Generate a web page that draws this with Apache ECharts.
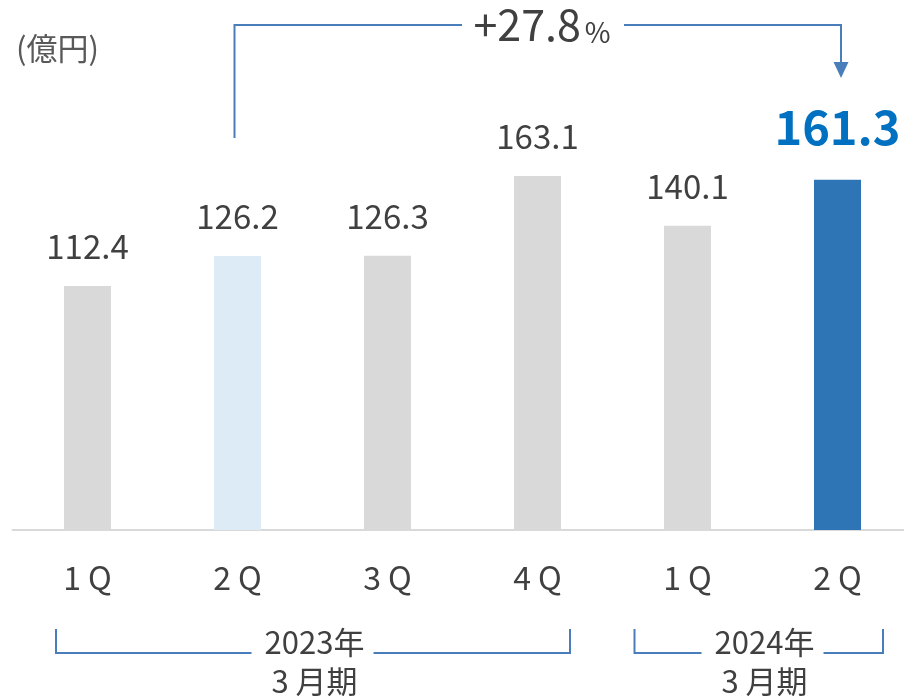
<!DOCTYPE html>
<html>
<head>
<meta charset="utf-8">
<script src="https://cdn.jsdelivr.net/npm/echarts@6/dist/echarts.min.js"></script>
<style>
html,body{margin:0;padding:0;background:#fff;}
#chart{width:904px;height:696px;}
</style>
</head>
<body>
<div id="chart"></div>
<script>
const categories = ['1 Q', '2 Q', '3 Q', '4 Q', '1 Q', '2 Q'];
const values = [112.4, 126.2, 126.3, 163.1, 140.1, 161.3];
const barColors = ['#D9D9D9', '#DDEBF7', '#D9D9D9', '#D9D9D9', '#D9D9D9', '#2E75B6'];
const fiscalYears = ['2023年', '2024年'];
const fiscalGroups = [[0, 3], [4, 5]];
const fiscalSuffix = '3 月期';
const unitLabel = '(億円)';
const growthValue = '+27.8';
const growthUnit = '%';
const compareFrom = 1;
const compareTo = 5;

const FONT = '"Noto Sans CJK JP", "Noto Sans", sans-serif';
const TEXT = '#404040';
const LINE = '#4A7EBB';

const chart = echarts.init(document.getElementById('chart'), null, {renderer: 'canvas'});

const barData = values.map((v, i) => {
  const d = {value: v, itemStyle: {color: barColors[i]}};
  if (i === values.length - 1) {
    d.label = {fontSize: 47, fontWeight: 'bold', color: '#0070C0', distance: 29};
  }
  return d;
});

chart.setOption({
  animation: false,
  backgroundColor: '#fff',
  grid: {left: 12.5, right: -8.5, top: 95.8, bottom: 166, outerBoundsMode: 'none', containLabel: false},
  title: {
    text: unitLabel, left: 11, top: 28,
    textStyle: {fontFamily: FONT, fontSize: 31, fontWeight: 'normal', color: '#595959'}
  },
  xAxis: {
    type: 'category',
    data: categories,
    axisLine: {show: true, lineStyle: {color: '#D9D9D9', width: 2}},
    axisTick: {show: false},
    axisLabel: {fontFamily: FONT, fontSize: 32, color: TEXT, margin: 32, lineHeight: 32}
  },
  yAxis: {
    type: 'value', min: 0, max: 200,
    show: false,
    splitLine: {show: false}
  },
  series: [{
    type: 'bar',
    data: barData,
    barWidth: 47,
    label: {
      show: true, position: 'top', distance: 23,
      fontFamily: FONT, fontSize: 33, color: TEXT,
      formatter: p => p.value.toFixed(1)
    }
  }]
});

function px(i) { return chart.convertToPixel({xAxisIndex: 0}, i); }

const graphics = [];
// fiscal-year brackets
const bracketTop = 629, bracketY = 653, gap = 61;
const groupOffsets = [[-31.5, 32.5], [-53, 45.5]];
fiscalGroups.forEach((g, k) => {
  const l = px(g[0]) + groupOffsets[k][0];
  const r = px(g[1]) + groupOffsets[k][1];
  const c = (px(g[0]) + px(g[1])) / 2;
  graphics.push({
    type: 'polyline', silent: true,
    shape: {points: [[l, bracketTop], [l, bracketY], [c - gap, bracketY]]},
    style: {stroke: LINE, lineWidth: 2, fill: null}
  });
  graphics.push({
    type: 'polyline', silent: true,
    shape: {points: [[c + gap, bracketY], [r, bracketY], [r, bracketTop]]},
    style: {stroke: LINE, lineWidth: 2, fill: null}
  });
  graphics.push({
    type: 'text', silent: true, x: c + 2, y: 642,
    style: {text: fiscalYears[k], fontFamily: FONT, fontSize: 31, fill: TEXT, align: 'center', verticalAlign: 'middle'}
  });
  graphics.push({
    type: 'text', silent: true, x: c + 2, y: 681,
    style: {text: fiscalSuffix, fontFamily: FONT, fontSize: 31, fill: TEXT, align: 'center', verticalAlign: 'middle'}
  });
});

// growth arrow
const ax1 = px(compareFrom) - 3;
const ax2 = px(compareTo) + 3.5;
const topY = 25;
const tc = 542, tgap = 80;
graphics.push({
  type: 'polyline', silent: true,
  shape: {points: [[ax1, 138], [ax1, topY], [tc - tgap, topY]]},
  style: {stroke: LINE, lineWidth: 2, fill: null}
});
graphics.push({
  type: 'polyline', silent: true,
  shape: {points: [[tc + tgap + 2, topY], [ax2, topY], [ax2, 64]]},
  style: {stroke: LINE, lineWidth: 2, fill: null}
});
graphics.push({
  type: 'polygon', silent: true,
  shape: {points: [[ax2 - 7.5, 62], [ax2 + 7.5, 62], [ax2, 78]]},
  style: {fill: LINE}
});
graphics.push({
  type: 'text', silent: true, x: tc, y: 46,
  style: {
    text: '{n|' + growthValue + '}{p|' + growthUnit + '}',
    align: 'center', verticalAlign: 'bottom',
    rich: {
      n: {fontFamily: FONT, fontSize: 43, lineHeight: 43, fill: TEXT, verticalAlign: 'bottom'},
      p: {fontFamily: FONT, fontSize: 28, lineHeight: 28, fill: TEXT, verticalAlign: 'bottom', padding: [0, 0, 0, 4]}
    }
  }
});

chart.setOption({graphic: graphics});
</script>
</body>
</html>
